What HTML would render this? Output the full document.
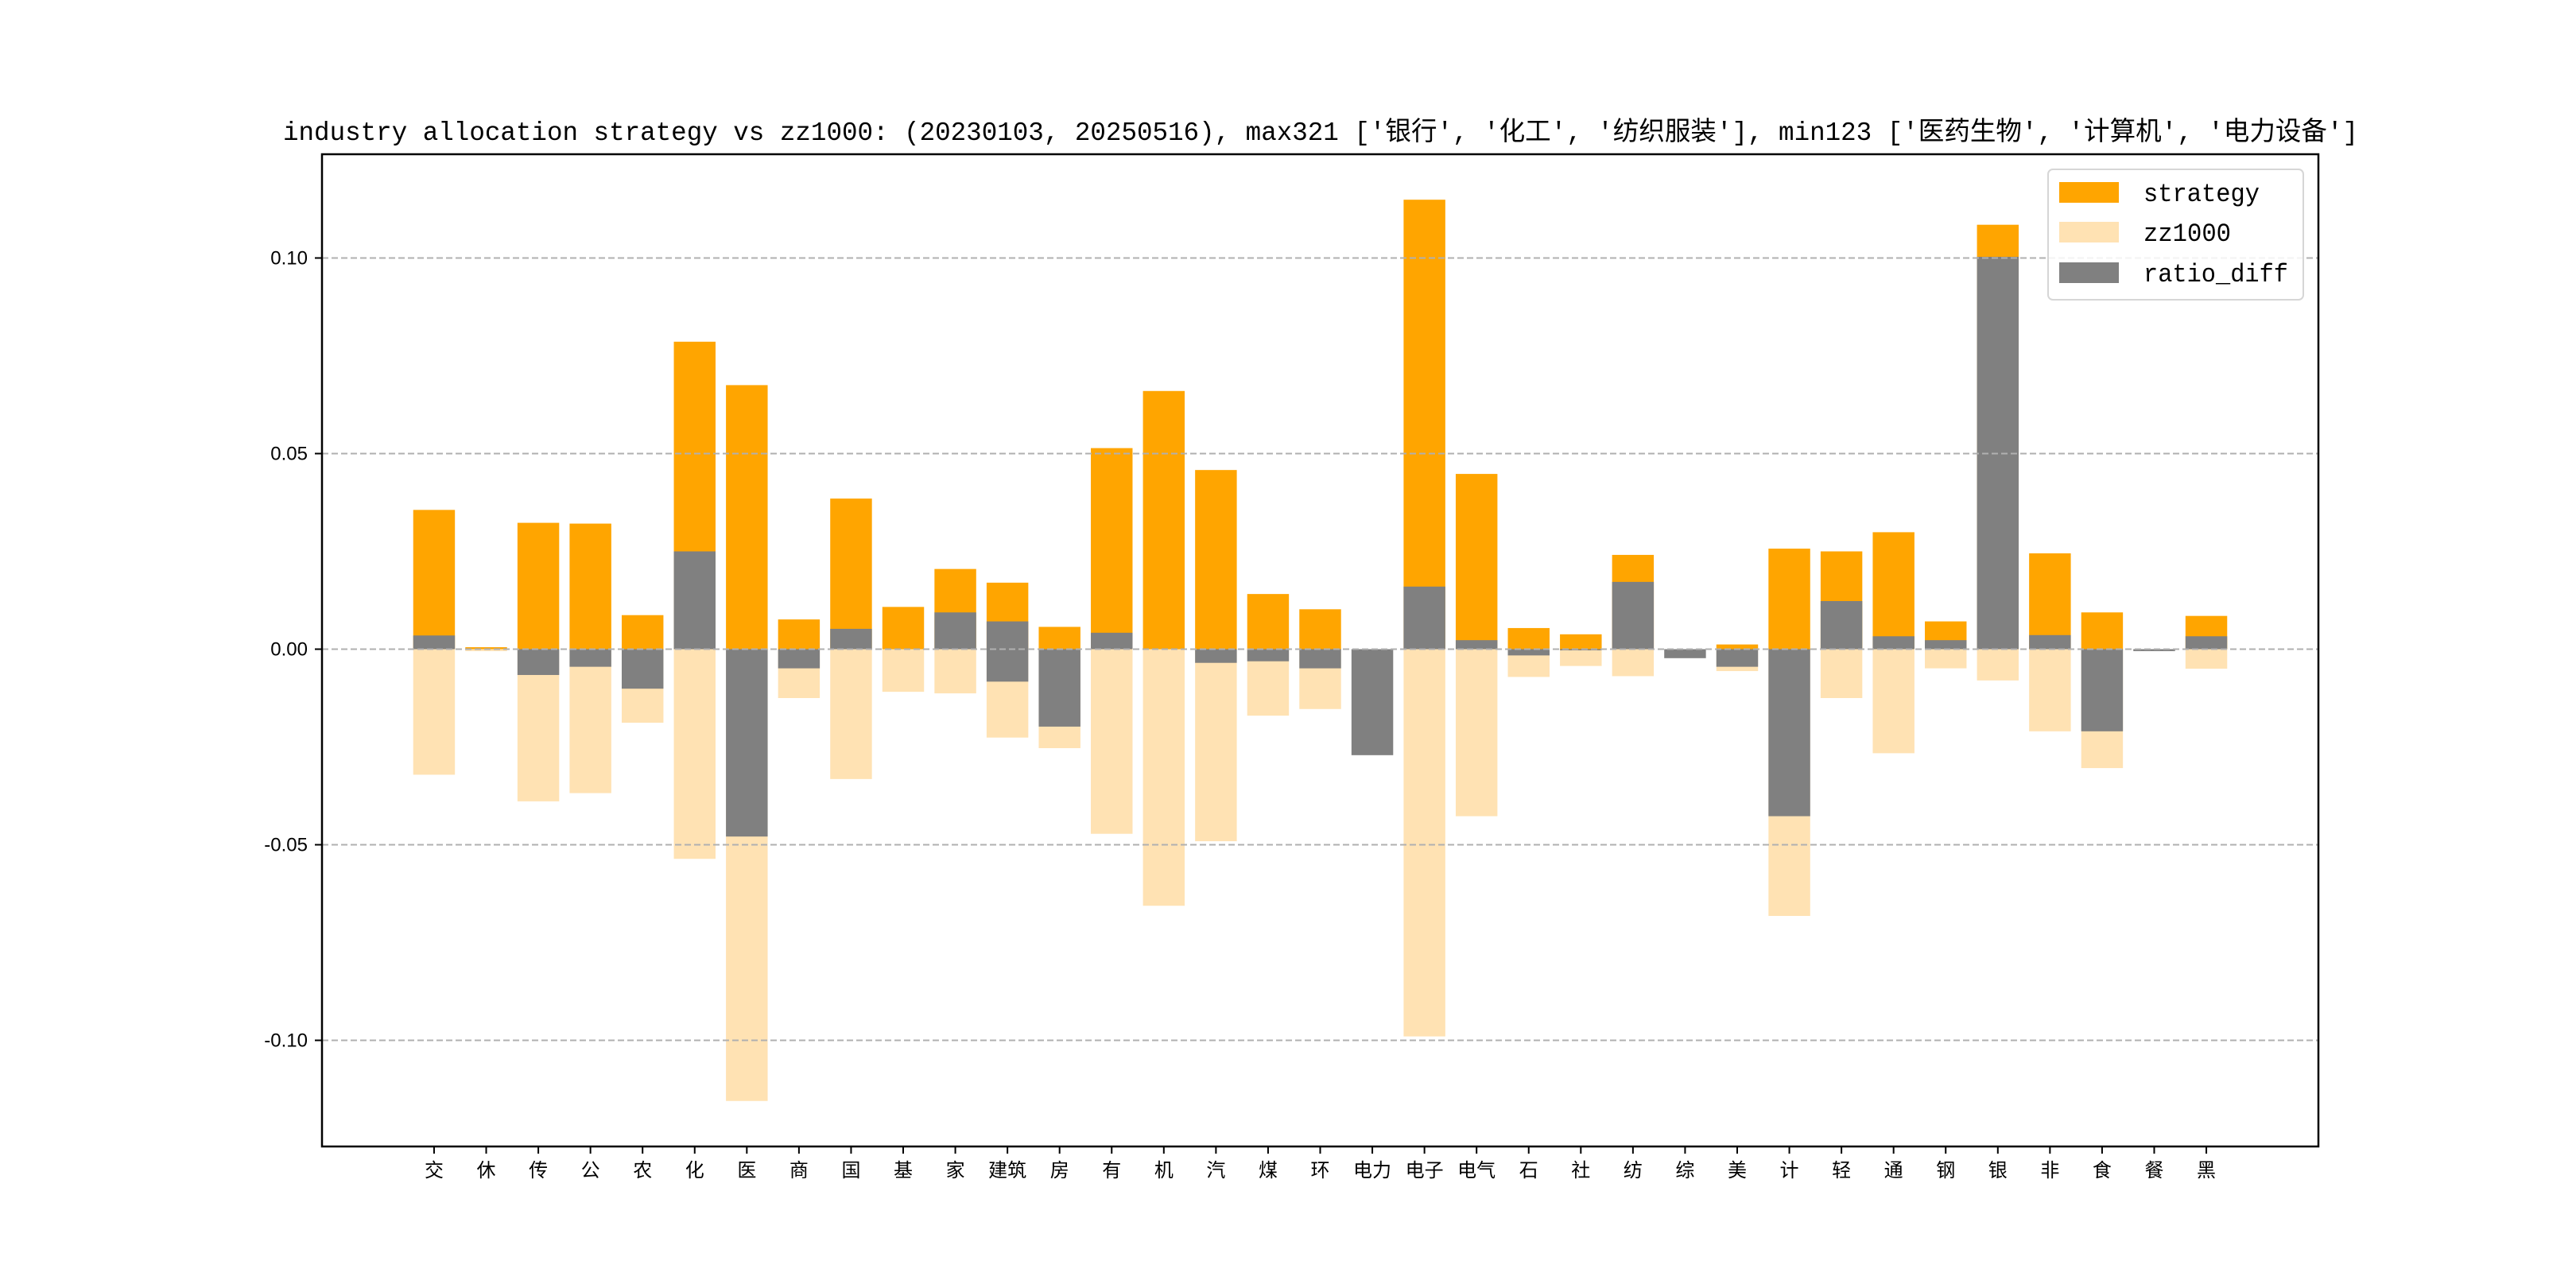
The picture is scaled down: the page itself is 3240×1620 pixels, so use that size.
<!DOCTYPE html>
<html><head><meta charset="utf-8"><style>
html,body{margin:0;padding:0;background:#fff;}
svg{display:block;}
text{font-family:"Liberation Sans","Noto Sans CJK SC",sans-serif;}
</style></head><body>
<svg id="chart" width="3240" height="1620" viewBox="0 0 3240 1620" xmlns="http://www.w3.org/2000/svg">
<rect width="3240" height="1620" fill="#fff"/>
<g id="bars"></g>
<g id="grid"></g>
<rect x="405" y="194" width="2511" height="1248" fill="none" stroke="#000" stroke-width="2.5"/>
<g id="yaxis"></g>
<g id="xaxis"></g>
<text x="1661" y="176" text-anchor="middle" font-size="33" textLength="2610" lengthAdjust="spacingAndGlyphs" style='font-family:"Liberation Mono","Noto Sans CJK SC",monospace'>industry allocation strategy vs zz1000: (20230103, 20250516), max321 ['银行', '化工', '纺织服装'], min123 ['医药生物', '计算机', '电力设备']</text>
<g>
<rect x="2576" y="213" width="321" height="164" rx="6" fill="#fff" fill-opacity="0.85" stroke="#d6d6d6" stroke-width="2"/>
<rect x="2590" y="229" width="75" height="26" fill="#ffa500"/>
<text x="2696" y="253" font-size="32" textLength="146" lengthAdjust="spacingAndGlyphs" style='font-family:"Liberation Mono",monospace'>strategy</text>
<rect x="2590" y="279" width="75" height="26" fill="#ffe2b3"/>
<text x="2696" y="303" font-size="32" textLength="110" lengthAdjust="spacingAndGlyphs" style='font-family:"Liberation Mono",monospace'>zz1000</text>
<rect x="2590" y="330" width="75" height="26" fill="#808080"/>
<text x="2696" y="354" font-size="32" textLength="182" lengthAdjust="spacingAndGlyphs" style='font-family:"Liberation Mono",monospace'>ratio_diff</text>
</g>
</svg>
<script>
const categories = ["交","休","传","公","农","化","医","商","国","基","家","建筑","房","有","机","汽","煤","环","电力","电子","电气","石","社","纺","综","美","计","轻","通","钢","银","非","食","餐","黑"];
const strategy = [0.0356,0.0005,0.0323,0.0321,0.0087,0.0786,0.0675,0.0076,0.0385,0.0108,0.0205,0.0170,0.0057,0.0514,0.0660,0.0458,0.0141,0.0102,0.0,0.1149,0.0448,0.0054,0.0038,0.0241,0.0,0.0012,0.0257,0.0250,0.0299,0.0071,0.1085,0.0245,0.0094,0.0,0.0085];
const zz1000 = [-0.0321,-0.0005,-0.0389,-0.0368,-0.0188,-0.0536,-0.1155,-0.0125,-0.0332,-0.0109,-0.0113,-0.0226,-0.0253,-0.0472,-0.0656,-0.0491,-0.0170,-0.0153,0.0,-0.0990,-0.0427,-0.0071,-0.0043,-0.0069,0.0,-0.0056,-0.0682,-0.0125,-0.0266,-0.0049,-0.0080,-0.0210,-0.0304,-0.0003,-0.0050];
const diffTop = [0.0035,0,0,0,0,0.025,0,0,0.0052,0,0.0094,0.0071,0,0.0042,0,0,0,0,0,0.016,0.0023,0,0,0.0172,0,0,0,0.0123,0.0033,0.0023,0.1003,0.0036,0,0,0.0033];
const diffBottom = [0,0,-0.0066,-0.0045,-0.0101,0,-0.0479,-0.0049,0,0,0,-0.0083,-0.0198,0,0,-0.0035,-0.0031,-0.0049,-0.0271,0,0,-0.0016,-0.0003,0,-0.0023,-0.0045,-0.0427,0,0,0,0,0,-0.0210,-0.0005,0];
const yTicks = [-0.10,-0.05,0.00,0.05,0.10];
const yTickLabels = ["-0.10","-0.05","0.00","0.05","0.10"];

const NS="http://www.w3.org/2000/svg";
const L=405,R=2916,T=194,B=1442;
const xMin=-2.15,xMax=categories.length-1+2.15;
const yZero=816.5, pxPerUnit=4920;
const xs=i=>L+(i-xMin)/(xMax-xMin)*(R-L);
const ys=v=>yZero-v*pxPerUnit;
const bw=0.8*(R-L)/(xMax-xMin);
function mk(tag,attrs,parent){const e=document.createElementNS(NS,tag);for(const k in attrs)e.setAttribute(k,attrs[k]);parent.appendChild(e);return e;}
const gb=document.getElementById('bars');
function bar(i,v0,v1,fill,name){
  const y0=Math.min(ys(v0),ys(v1)),h=Math.abs(ys(v0)-ys(v1));
  const r=mk('rect',{x:xs(i)-bw/2,y:y0,width:bw,height:Math.max(h,0.5),fill:fill},gb);
  
  
}
categories.forEach((c,i)=>{
  if(strategy[i]!==0) bar(i,0,strategy[i],'#ffa500','bar-strategy-'+i);
  if(zz1000[i]!==0) bar(i,0,zz1000[i],'#ffe2b3','bar-zz1000-'+i);
  if(diffTop[i]!==0||diffBottom[i]!==0) bar(i,diffBottom[i],diffTop[i],'#808080','bar-ratio-diff-'+i);
});
const gg=document.getElementById('grid'),gy=document.getElementById('yaxis'),gx=document.getElementById('xaxis');
yTicks.forEach((t,k)=>{
  const y=ys(t);
  const g=mk('line',{x1:L,x2:R,y1:y,y2:y,stroke:'#b0b0b0','stroke-width':2,'stroke-dasharray':'8,4'},gg);
  
  
  const tk=mk('line',{x1:L-9,x2:L,y1:y,y2:y,stroke:'#000','stroke-width':2},gy);
  
  
  const tx=mk('text',{x:L-18,y:y+8,'text-anchor':'end','font-size':24},gy);
  tx.textContent=yTickLabels[k];
  
  
});
categories.forEach((c,i)=>{
  const x=xs(i);
  const tk=mk('line',{x1:x,x2:x,y1:B,y2:B+9,stroke:'#000','stroke-width':2},gx);
  
  
  const tx=mk('text',{x:x,y:B+38,'text-anchor':'middle','font-size':24},gx);
  tx.textContent=c;
  
  
});
</script>
</body></html>
